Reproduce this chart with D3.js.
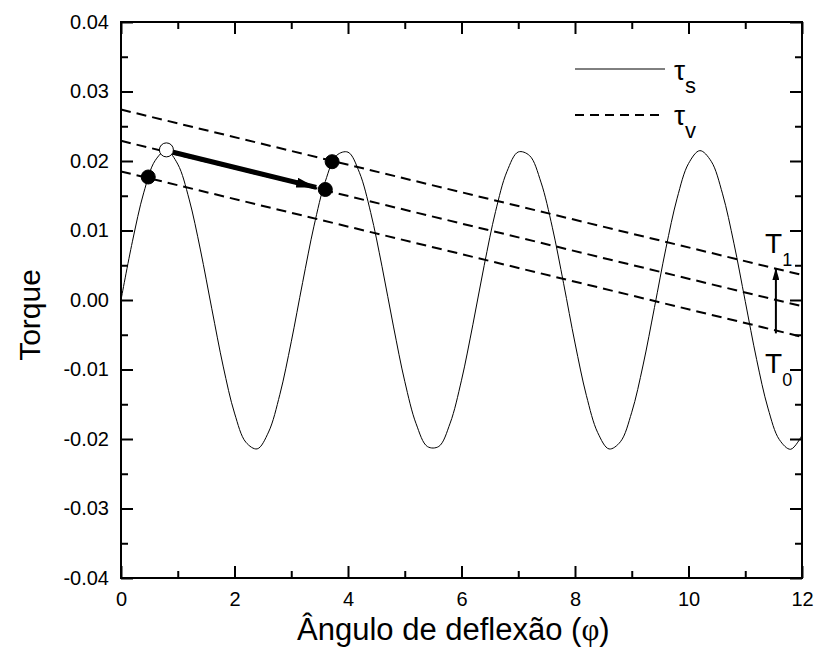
<!DOCTYPE html>
<html>
<head>
<meta charset="utf-8">
<script src="https://cdn.jsdelivr.net/npm/d3@7"></script>
<style>
  body { margin: 0; background: #fff; }
  text { font-family: "Liberation Sans", Arial, sans-serif; fill: #000; }
</style>
</head>
<body>
<div id="chart"></div>
<script>
// tau_s curve, every 0.2 rad
const phi = [0, 0.2, 0.4, 0.6, 0.8, 1.0, 1.2, 1.4, 1.6, 1.8, 2.0, 2.2, 2.4, 2.6, 2.8, 3.0,
  3.2, 3.4, 3.6, 3.8, 4.0, 4.2, 4.4, 4.6, 4.8, 5.0, 5.2, 5.4, 5.6, 5.8, 6.0,
  6.2, 6.4, 6.6, 6.8, 7.0, 7.2, 7.4, 7.6, 7.8, 8.0, 8.2, 8.4, 8.6, 8.8, 9.0,
  9.2, 9.4, 9.6, 9.8, 10.0, 10.2, 10.4, 10.6, 10.8, 11.0, 11.2, 11.4, 11.6, 11.8, 12.0];
const tauS = [0, 0.00837, 0.01542, 0.02004, 0.02149, 0.01955, 0.01452, 0.00720, -0.00126, -0.00951,
  -0.01627, -0.02046, -0.02142, -0.01900, -0.01357, -0.00601, 0.00250, 0.01062, 0.01706, 0.02081,
  0.02127, 0.01837, 0.01258, 0.00479, -0.00375, -0.01170, -0.01780, -0.02109, -0.02107, -0.01772,
  -0.01154, -0.00356, 0.00498, 0.01273, 0.01847, 0.02130, 0.02077, 0.01696, 0.01047, 0.00234,
  -0.00619, -0.01372, -0.01908, -0.02143, -0.02040, -0.01615, -0.00935, -0.00108, 0.00736, 0.01465,
  0.01963, 0.02149, 0.01996, 0.01527, 0.00817, -0.00019, -0.00854, -0.01555, -0.02008, -0.02148,
  -0.01947];

// tau_v lines (value at phi = 0 and at phi = 12)
const tauVStart = [0.0274, 0.0229, 0.0185];
const tauVEnd = [0.0036, -0.0009, -0.0053];

// marked points
const pointX = [0.48, 0.80, 3.60, 3.72];
const pointY = [0.0177, 0.0216, 0.0159, 0.0199];
const pointOpen = [false, true, false, false];

// arrows: [x0, y0, x1, y1]
const jumpArrow = [0.90, 0.0213, 3.44, 0.0162];
const tArrow = [11.54, -0.0048, 11.54, 0.0046];

const xTicks = [0, 2, 4, 6, 8, 10, 12];
const xMinor = [1, 3, 5, 7, 9, 11];
const yTicks = [-0.04, -0.03, -0.02, -0.01, 0, 0.01, 0.02, 0.03, 0.04];
const yMinor = [-0.035, -0.025, -0.015, -0.005, 0.005, 0.015, 0.025, 0.035];

const width = 814, height = 648;
const margin = { top: 22, right: 12, bottom: 70, left: 121 };
const w = width - margin.left - margin.right;
const h = height - margin.top - margin.bottom;

const x = d3.scaleLinear().domain([0, 12]).range([0, w]);
const y = d3.scaleLinear().domain([-0.04, 0.04]).range([h, 0]);

const svg = d3.select("#chart").append("svg")
  .attr("width", width)
  .attr("height", height);

const defs = svg.append("defs");
defs.append("marker")
  .attr("id", "headBig")
  .attr("markerUnits", "userSpaceOnUse")
  .attr("viewBox", "0 0 20 10")
  .attr("refX", 20).attr("refY", 5)
  .attr("markerWidth", 20).attr("markerHeight", 10)
  .attr("orient", "auto")
  .append("path").attr("d", "M0,0L20,5L0,10Z").attr("fill", "#000");
defs.append("marker")
  .attr("id", "headSmall")
  .attr("markerUnits", "userSpaceOnUse")
  .attr("viewBox", "0 0 12 7")
  .attr("refX", 12).attr("refY", 3.5)
  .attr("markerWidth", 12).attr("markerHeight", 7)
  .attr("orient", "auto")
  .append("path").attr("d", "M0,0L12,3.5L0,7Z").attr("fill", "#000");

const g = svg.append("g").attr("transform", `translate(${margin.left},${margin.top})`);

const fmt = v => d3.format(".2f")(v).replace("\u2212", "-");

// axes, ticks pointing inward on all four sides
function styleAxis(sel) {
  sel.select(".domain").remove();
  sel.selectAll(".tick line").attr("stroke", "#000").attr("stroke-width", 2);
  sel.selectAll(".tick text").style("font-size", "20px").attr("fill", "#000")
    .style("font-family", '"Liberation Sans", Arial, sans-serif');
}

g.append("g").attr("transform", `translate(0,${h})`)
  .call(d3.axisBottom(x).tickValues(xTicks).tickFormat(d3.format("d")).tickSize(-12).tickPadding(14))
  .call(styleAxis);
g.append("g").attr("transform", `translate(0,${h})`)
  .call(d3.axisBottom(x).tickValues(xMinor).tickFormat("").tickSize(-7))
  .call(styleAxis);
g.append("g")
  .call(d3.axisTop(x).tickValues(xTicks).tickFormat("").tickSize(-12))
  .call(styleAxis);
g.append("g")
  .call(d3.axisTop(x).tickValues(xMinor).tickFormat("").tickSize(-7))
  .call(styleAxis);
g.append("g")
  .call(d3.axisLeft(y).tickValues(yTicks).tickFormat(fmt).tickSize(-12).tickPadding(12))
  .call(styleAxis);
g.append("g")
  .call(d3.axisLeft(y).tickValues(yMinor).tickFormat("").tickSize(-7))
  .call(styleAxis);
g.append("g").attr("transform", `translate(${w},0)`)
  .call(d3.axisRight(y).tickValues(yTicks).tickFormat("").tickSize(-12))
  .call(styleAxis);
g.append("g").attr("transform", `translate(${w},0)`)
  .call(d3.axisRight(y).tickValues(yMinor).tickFormat("").tickSize(-7))
  .call(styleAxis);

g.append("rect")
  .attr("width", w).attr("height", h)
  .attr("fill", "none").attr("stroke", "#000").attr("stroke-width", 2);

// tau_v dashed lines
g.selectAll(".tauv")
  .data(tauVStart.map((v, i) => [v, tauVEnd[i]]))
  .enter().append("line")
  .attr("class", "tauv")
  .attr("x1", x(0)).attr("y1", d => y(d[0]))
  .attr("x2", x(12)).attr("y2", d => y(d[1]))
  .attr("stroke", "#000").attr("stroke-width", 2)
  .attr("stroke-dasharray", "10,6");

// tau_s curve
const line = d3.line()
  .x(d => x(d[0]))
  .y(d => y(d[1]))
  .curve(d3.curveCatmullRom);
g.append("path")
  .datum(phi.map((p, i) => [p, tauS[i]]))
  .attr("d", line)
  .attr("fill", "none")
  .attr("stroke", "#000")
  .attr("stroke-width", 1);

// arrows
g.append("line")
  .attr("x1", x(jumpArrow[0])).attr("y1", y(jumpArrow[1]))
  .attr("x2", x(jumpArrow[2])).attr("y2", y(jumpArrow[3]))
  .attr("stroke", "#000").attr("stroke-width", 5)
  .attr("marker-end", "url(#headBig)");
g.append("line")
  .attr("x1", x(tArrow[0])).attr("y1", y(tArrow[1]))
  .attr("x2", x(tArrow[2])).attr("y2", y(tArrow[3]))
  .attr("stroke", "#000").attr("stroke-width", 2)
  .attr("marker-end", "url(#headSmall)");

// points
g.selectAll(".pt")
  .data(pointX.map((px, i) => ({ x: px, y: pointY[i], open: pointOpen[i] })))
  .enter().append("circle")
  .attr("class", "pt")
  .attr("cx", d => x(d.x)).attr("cy", d => y(d.y))
  .attr("r", 7)
  .attr("fill", d => d.open ? "#fff" : "#000")
  .attr("stroke", "#000").attr("stroke-width", 1);

// T0 / T1 labels
function subLabel(px, py, main, sub, mainSize, subSize, dy) {
  const t = g.append("text")
    .attr("x", x(px)).attr("y", y(py))
    .style("font-size", mainSize + "px");
  t.append("tspan").text(main);
  t.append("tspan").attr("dy", dy).style("font-size", subSize + "px").text(sub);
}
subLabel(11.35, 0.0068, "T", "1", 28, 18, 13);
subLabel(11.35, -0.0105, "T", "0", 28, 18, 13);

// legend
const legend = g.append("g").attr("transform", `translate(${x(8.0)},0)`);
legend.append("line")
  .attr("x1", 0).attr("x2", 90).attr("y1", 47).attr("y2", 47)
  .attr("stroke", "#000").attr("stroke-width", 1);
legend.append("line")
  .attr("x1", 0).attr("x2", 90).attr("y1", 93).attr("y2", 93)
  .attr("stroke", "#000").attr("stroke-width", 2)
  .attr("stroke-dasharray", "9,6");
[["s", 58], ["v", 103]].forEach(([sub, yy]) => {
  const t = legend.append("text").attr("x", 99).attr("y", yy).style("font-size", "28px");
  t.append("tspan").text("\u03c4");
  t.append("tspan").attr("dy", 13).style("font-size", "22px").text(sub);
});

// axis titles
const xt = svg.append("text")
  .attr("x", 297).attr("y", 640)
  .style("font-size", "31px");
xt.append("tspan").text("\u00c2ngulo de deflex\u00e3o (");
xt.append("tspan").style("font-family", '"Liberation Serif", serif').text("\u03c6");
xt.append("tspan").text(")");

svg.append("text")
  .attr("transform", "translate(40,315) rotate(-90)")
  .attr("text-anchor", "middle")
  .style("font-size", "30px")
  .text("Torque");
</script>
</body>
</html>
